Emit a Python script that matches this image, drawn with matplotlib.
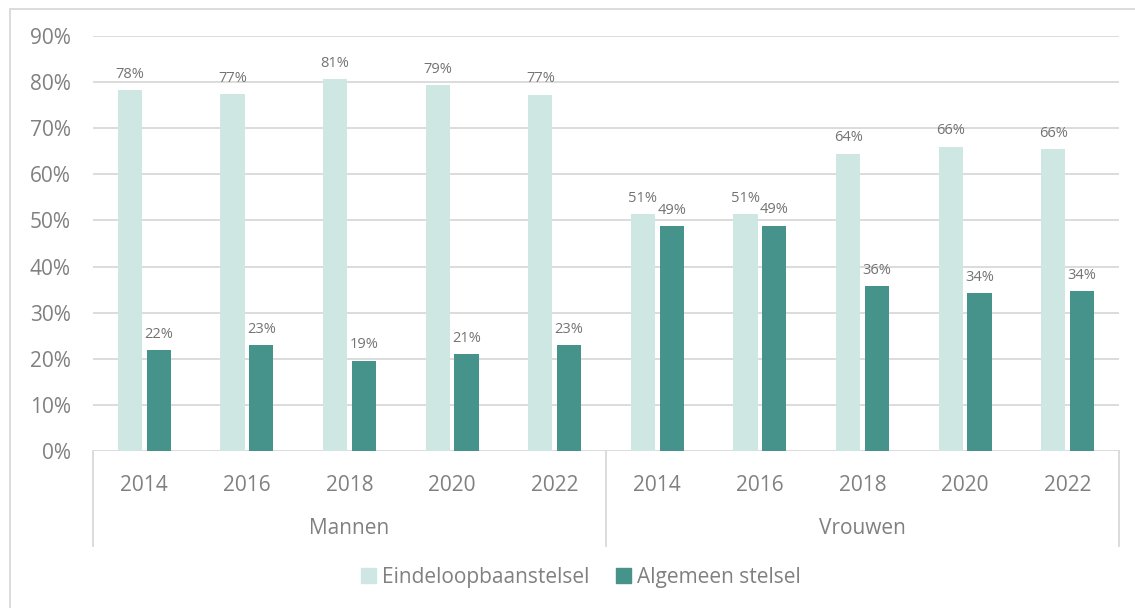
import matplotlib.pyplot as plt
import numpy as np
from matplotlib.patches import Rectangle, Patch
from matplotlib.lines import Line2D

# data
groups = ['Mannen', 'Vrouwen']
years = ['2014', '2016', '2018', '2020', '2022']
eindeloopbaan = [78.3, 77.4, 80.7, 79.3, 77.3, 51.3, 51.3, 64.5, 66.0, 65.5]
algemeen = [21.9, 22.9, 19.6, 21.0, 23.0, 48.8, 48.9, 35.7, 34.2, 34.7]
label_eind = ['78%', '77%', '81%', '79%', '77%', '51%', '51%', '64%', '66%', '66%']
label_alg = ['22%', '23%', '19%', '21%', '23%', '49%', '49%', '36%', '34%', '34%']

light = '#CEE7E3'
dark = '#46938B'
grey = '#808080'
gridc = '#D9D9D9'

plt.rcParams['font.family'] = ['Open Sans', 'DejaVu Sans']

fig = plt.figure(figsize=(11.35, 6.08), dpi=100)
ax = fig.add_axes([93 / 1135, 1 - 451 / 608, (1119 - 93) / 1135, (451 - 36) / 608])

x = np.arange(len(eindeloopbaan))
w = 0.235
off = 0.14
b1 = ax.bar(x - off, eindeloopbaan, w, color=light, zorder=3)
b2 = ax.bar(x + off, algemeen, w, color=dark, zorder=3)

for rect, lab in zip(b1, label_eind):
    ax.annotate(lab, (rect.get_x() + rect.get_width() / 2, rect.get_height()),
                xytext=(0, 6), textcoords='offset points', ha='center', va='bottom',
                fontsize=10.5, color='#737373')
for rect, lab in zip(b2, label_alg):
    ax.annotate(lab, (rect.get_x() + rect.get_width() / 2, rect.get_height()),
                xytext=(0, 6), textcoords='offset points', ha='center', va='bottom',
                fontsize=10.5, color='#737373')

ax.set_xlim(-0.5, len(x) - 0.5)
ax.set_ylim(0, 90)
ax.set_yticks(range(0, 91, 10))
ax.set_yticklabels([f'{v}%' for v in range(0, 91, 10)])
ax.yaxis.grid(True, color=gridc, linewidth=1.3, zorder=0)
ax.tick_params(axis='y', length=0, labelsize=15, labelcolor=grey, pad=16)
for s in ax.spines.values():
    s.set_visible(False)

# multi-level category axis
ax.set_xticks(x)
ax.set_xticklabels(years * 2)
ax.tick_params(axis='x', length=0, labelsize=15, labelcolor=grey, pad=17)
for i, g in enumerate(groups):
    ax.text(i * 5 + 2, -16.9, g, ha='center', va='center', fontsize=15, color=grey,
            transform=ax.transData, clip_on=False)
for xs in [-0.5, 4.5, 9.5]:
    ax.add_line(Line2D([xs, xs], [0, -20.5], color=gridc, linewidth=1.3, clip_on=False))

# legend
handles = [Patch(color=light, label='Eindeloopbaanstelsel'),
           Patch(color=dark, label='Algemeen stelsel')]
fig.legend(handles=handles, loc='center', bbox_to_anchor=(0.512, 1 - 577 / 608), ncol=2,
           frameon=False, fontsize=15, labelcolor=grey, handlelength=0.7,
           handleheight=0.7, handletextpad=0.3, columnspacing=1.3)

# outer border
fig.patches.append(Rectangle((10 / 1135, -0.01), 1.02, 1 - 9 / 608 + 0.01, transform=fig.transFigure,
                             fill=False, edgecolor=gridc, linewidth=1.3))

plt.savefig('out.png', dpi=100)
